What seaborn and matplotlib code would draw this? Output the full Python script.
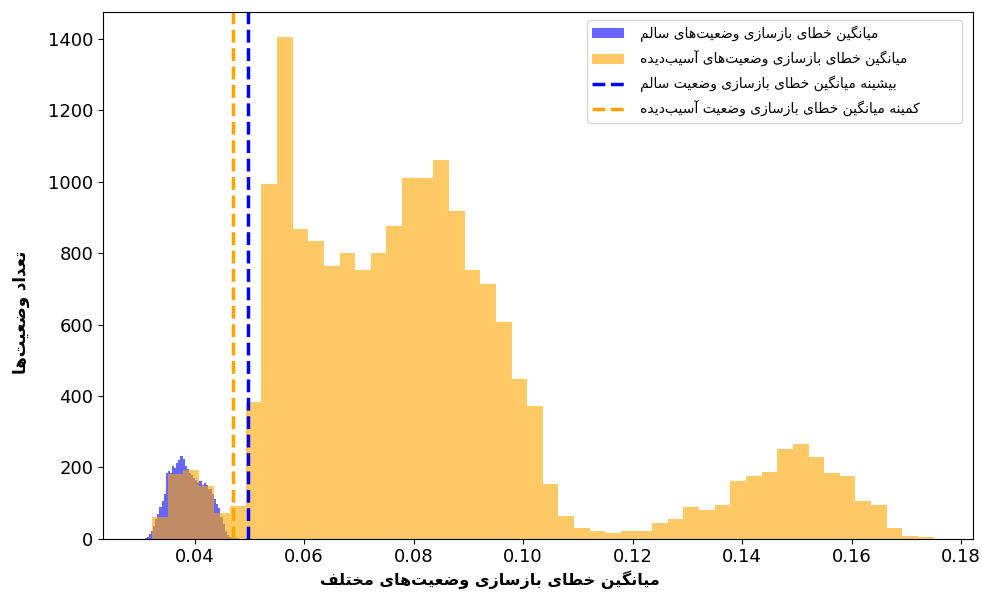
import numpy as np
import pandas as pd
import matplotlib
matplotlib.use("Agg")
import matplotlib.pyplot as plt
import seaborn as sns

# Orange histogram (damaged states): 50 bins
damaged_lo, damaged_hi = 0.0322, 0.1750
damaged_counts = [60, 182, 192, 148, 73, 92, 382, 994, 1405, 869,
                  833, 765, 801, 754, 801, 875, 1010, 1010, 1060, 917,
                  752, 714, 607, 447, 372, 152, 65, 31, 21, 16,
                  21, 21, 44, 56, 90, 81, 95, 161, 175, 186,
                  250, 265, 228, 183, 175, 106, 94, 29, 9, 5]

# Blue histogram (healthy states): 50 bins
healthy_lo, healthy_hi = 0.0305, 0.0497
healthy_counts = [0, 2, 5, 12, 22, 35, 55, 70, 88, 105,
                  125, 185, 190, 185, 205, 198, 212, 220, 232, 222,
                  205, 195, 185, 178, 170, 165, 160, 162, 150, 155,
                  150, 140, 138, 125, 110, 98, 85, 60, 40, 22,
                  10, 5, 3, 2, 1, 1, 0, 0, 0, 1]

# Threshold lines
max_healthy = 0.0497
min_damaged = 0.0470

labels = [
    "میانگین خطای بازسازی وضعیت‌های سالم",
    "میانگین خطای بازسازی وضعیت‌های آسیب‌دیده",
    "بیشینه میانگین خطای بازسازی وضعیت سالم",
    "کمینه میانگین خطای بازسازی وضعیت آسیب‌دیده",
]
xlabel = "میانگین خطای بازسازی وضعیت‌های مختلف"
ylabel = "تعداد وضعیت‌ها"

# Minimal Persian shaping (matplotlib has no RTL / joining support)
FORMS = {
    "\u0622": ("\uFE81", "\uFE82", None, None),
    "\u0627": ("\uFE8D", "\uFE8E", None, None),
    "\u0628": ("\uFE8F", "\uFE90", "\uFE91", "\uFE92"),
    "\u067E": ("\uFB56", "\uFB57", "\uFB58", "\uFB59"),
    "\u062A": ("\uFE95", "\uFE96", "\uFE97", "\uFE98"),
    "\u062E": ("\uFEA5", "\uFEA6", "\uFEA7", "\uFEA8"),
    "\u062F": ("\uFEA9", "\uFEAA", None, None),
    "\u0631": ("\uFEAD", "\uFEAE", None, None),
    "\u0632": ("\uFEAF", "\uFEB0", None, None),
    "\u0633": ("\uFEB1", "\uFEB2", "\uFEB3", "\uFEB4"),
    "\u0634": ("\uFEB5", "\uFEB6", "\uFEB7", "\uFEB8"),
    "\u0636": ("\uFEBD", "\uFEBE", "\uFEBF", "\uFEC0"),
    "\u0637": ("\uFEC1", "\uFEC2", "\uFEC3", "\uFEC4"),
    "\u0639": ("\uFEC9", "\uFECA", "\uFECB", "\uFECC"),
    "\u0641": ("\uFED1", "\uFED2", "\uFED3", "\uFED4"),
    "\u06A9": ("\uFB8E", "\uFB8F", "\uFB90", "\uFB91"),
    "\u06AF": ("\uFB92", "\uFB93", "\uFB94", "\uFB95"),
    "\u0644": ("\uFEDD", "\uFEDE", "\uFEDF", "\uFEE0"),
    "\u0645": ("\uFEE1", "\uFEE2", "\uFEE3", "\uFEE4"),
    "\u0646": ("\uFEE5", "\uFEE6", "\uFEE7", "\uFEE8"),
    "\u0647": ("\uFEE9", "\uFEEA", "\uFEEB", "\uFEEC"),
    "\u0648": ("\uFEED", "\uFEEE", None, None),
    "\u06CC": ("\uFBFC", "\uFBFD", "\uFBFE", "\uFBFF"),
}


def fa(text):
    out = []
    for i, c in enumerate(text):
        if c not in FORMS:
            if c != "\u200c":
                out.append(c)
            continue
        prev = text[i - 1] if i > 0 else ""
        nxt = text[i + 1] if i + 1 < len(text) else ""
        f = FORMS[c]
        jp = prev in FORMS and FORMS[prev][2] is not None
        jn = f[2] is not None and nxt in FORMS
        if jp and jn:
            out.append(f[3])
        elif jp:
            out.append(f[1])
        elif jn:
            out.append(f[2])
        else:
            out.append(f[0])
    return "".join(reversed(out))


plt.rcParams["font.family"] = ["DejaVu Sans"]

healthy_edges = np.linspace(healthy_lo, healthy_hi, len(healthy_counts) + 1)
damaged_edges = np.linspace(damaged_lo, damaged_hi, len(damaged_counts) + 1)

healthy_df = pd.DataFrame({"err": (healthy_edges[:-1] + healthy_edges[1:]) / 2,
                           "n": healthy_counts})
damaged_df = pd.DataFrame({"err": (damaged_edges[:-1] + damaged_edges[1:]) / 2,
                           "n": damaged_counts})

fig = plt.figure(figsize=(9.82, 6.06), dpi=100)
ax = fig.add_axes([0.105, 0.111, 0.886, 0.869])

sns.histplot(data=healthy_df, x="err", weights="n", bins=list(healthy_edges),
             color="blue", alpha=0.6, linewidth=0, label=fa(labels[0]), ax=ax)
sns.histplot(data=damaged_df, x="err", weights="n", bins=list(damaged_edges),
             color="orange", alpha=0.6, linewidth=0, label=fa(labels[1]), ax=ax)
ax.axvline(max_healthy, color="blue", linestyle="--", linewidth=2.5, label=fa(labels[2]))
ax.axvline(min_damaged, color="orange", linestyle="--", linewidth=2.5, label=fa(labels[3]))

ax.set_xticks([0.04, 0.06, 0.08, 0.10, 0.12, 0.14, 0.16, 0.18])
ax.set_yticks(range(0, 1401, 200))
ax.tick_params(labelsize=13)
ax.set_xlabel(fa(xlabel), fontsize=11.5, fontweight="bold")
ax.set_ylabel(fa(ylabel), fontsize=12, fontweight="bold")
ax.xaxis.set_label_coords(0.445, -0.06)
ax.yaxis.set_label_coords(-0.084, 0.43)

# patches first, then the dashed lines (as in the original)
handles, labs = ax.get_legend_handles_labels()
order = [2, 3, 0, 1]
ax.legend([handles[i] for i in order], [labs[i] for i in order],
          loc="upper left", bbox_to_anchor=(0.556, 0, 0.431, 0.985),
          mode="expand", borderaxespad=0, fontsize=10,
          handlelength=2.3, handletextpad=1.1, labelspacing=0.65)

plt.savefig("out.png", dpi=100)
